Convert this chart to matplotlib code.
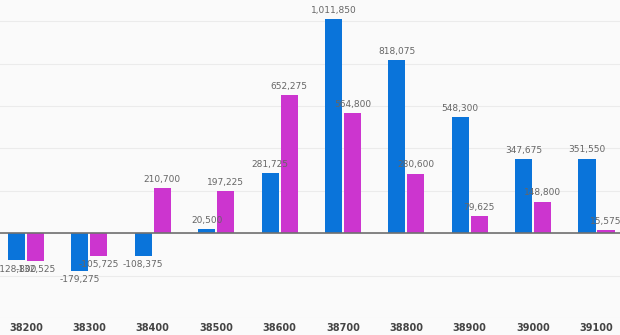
import matplotlib.pyplot as plt
import numpy as np
from matplotlib import font_manager

# strikes and two series of values
strikes = ["38200", "38300", "38400", "38500", "38600",
           "38700", "38800", "38900", "39000", "39100"]
blue_vals = [-128800, -179275, -108375, 20500, 281725,
             1011850, 818075, 548300, 347675, 351550]
pink_vals = [-132525, -105725, 210700, 197225, 652275,
             564800, 280600, 79625, 148800, 15575]

names = {f.name for f in font_manager.fontManager.ttflist}
fam = ["Liberation Sans Narrow"] if "Liberation Sans Narrow" in names else ["DejaVu Sans"]
plt.rcParams["font.family"] = fam + ["DejaVu Sans"]

fig = plt.figure(figsize=(6.2, 3.35), dpi=100, facecolor="#fafafa")
ax = fig.add_axes([0, 0.051, 1, 0.949])
ax.set_facecolor("#fafafa")

x = np.arange(len(strikes))
w = 0.27
off = 0.15
b1 = ax.bar(x - off, blue_vals, w, color="#0a74da", zorder=2)
b2 = ax.bar(x + off, pink_vals, w, color="#cc35cf", zorder=2)

for bars, vals in ((b1, blue_vals), (b2, pink_vals)):
    for rect, v in zip(bars, vals):
        cx = rect.get_x() + rect.get_width() / 2
        txt = f"{v:,}"
        if v >= 0:
            ax.annotate(txt, (cx, v), xytext=(0, 3), textcoords="offset points",
                        ha="center", va="bottom", fontsize=6.5, color="#666666", zorder=3)
        else:
            ax.annotate(txt, (cx, v), xytext=(0, -3), textcoords="offset points",
                        ha="center", va="top", fontsize=6.5, color="#666666", zorder=3)

ax.set_xlim(-0.41, 9.37)
ax.set_ylim(-400000, 1100000)
ax.set_yticks([-400000, -200000, 0, 200000, 400000, 600000, 800000, 1000000])
ax.yaxis.grid(True, color="#ebebeb", lw=0.8, zorder=0)
ax.axhline(0, color="#707070", lw=1.2, zorder=2.5)
ax.tick_params(axis="y", left=False, labelleft=False)
ax.set_xticks(x)
ax.set_xticklabels(strikes, fontsize=7, fontweight="bold", color="#444444")
ax.tick_params(axis="x", length=0, pad=4)
for s in ax.spines.values():
    s.set_visible(False)

fig.savefig("out.png", dpi=100, facecolor=fig.get_facecolor())
